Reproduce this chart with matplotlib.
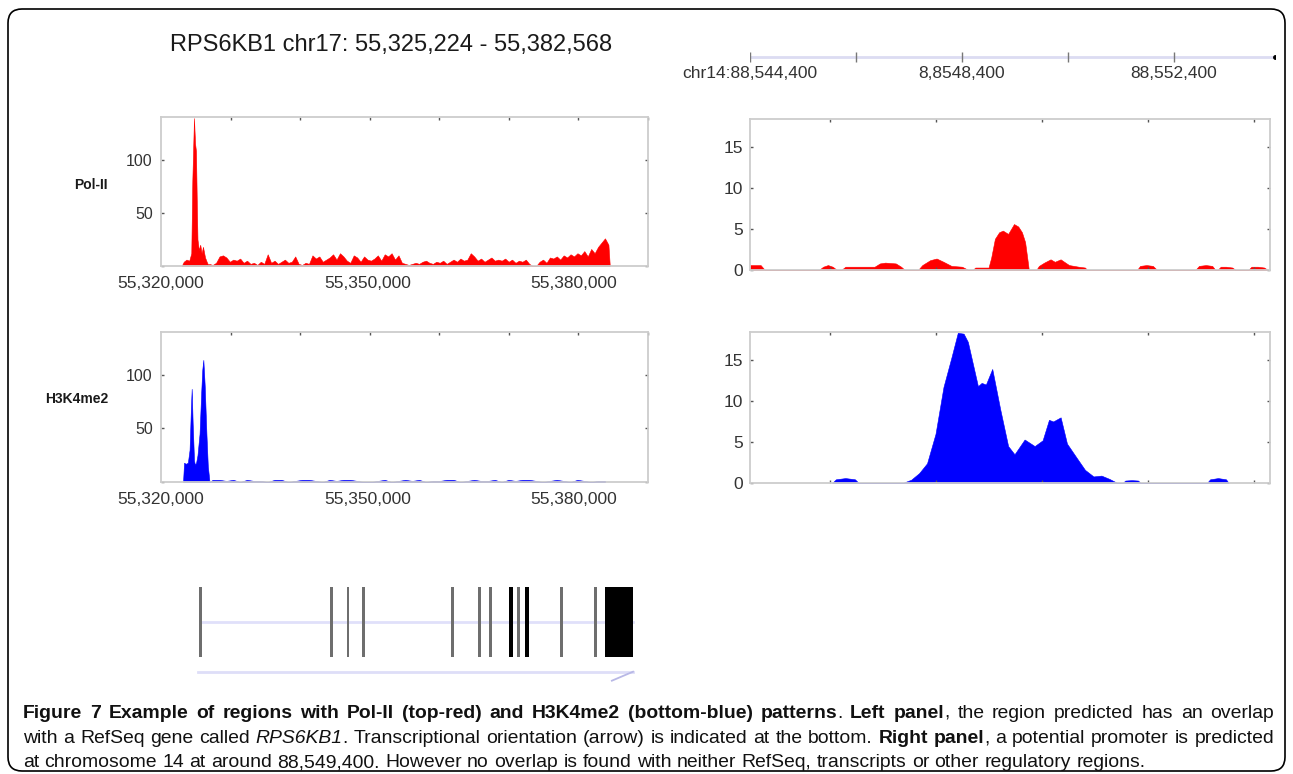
import numpy as np
import matplotlib
matplotlib.use('Agg')
import matplotlib.pyplot as plt
from matplotlib.patches import FancyBboxPatch
from matplotlib.transforms import IdentityTransform
from matplotlib.ticker import FixedLocator
from matplotlib import font_manager

# ---- data ----
LEFT0 = 55320000          # left panels, bp
RIGHT0 = 88544400         # right panels, bp
GENE0 = 55325224          # RPS6KB1 start
GENE_LEN = 57.344         # kb

left_xticks = [55320000, 55350000, 55380000]
left_xlabels = ['55,320,000', '55,350,000', '55,380,000']

# Pol-II (left, red), kb from LEFT0
pol_head_kb = [3.0, 3.3, 3.7, 4.1, 4.4, 4.55, 4.79, 4.95, 5.08, 5.2, 5.3, 5.5,
               5.7, 5.9, 6.1, 6.4, 6.7, 6.9]
pol_head = [0, 4, 6, 5, 12, 80, 139, 115, 108, 60, 25, 15, 20, 12, 18, 8, 3, 1]
pol_tail = [2, 1, 3, 9, 10, 8, 4, 6, 5, 7, 3, 5,
            2, 3, 1, 4, 2, 11, 3, 5, 2, 4, 6, 3,
            4, 9, 2, 1, 3, 2, 10, 7, 9, 4, 6, 8,
            11, 6, 12, 9, 5, 3, 10, 8, 4, 9, 6, 5,
            7, 10, 5, 11, 9, 12, 6, 10, 3, 2, 1, 2,
            3, 2, 4, 5, 3, 2, 4, 3, 5, 2, 4, 6,
            4, 7, 5, 6, 12, 9, 5, 7, 4, 6, 8, 5,
            6, 5, 7, 4, 6, 3, 5, 4, 6, 2, 0, 0,
            4, 6, 3, 8, 7, 9, 6, 10, 8, 11, 9, 12,
            10, 14, 9, 16, 12, 18, 22, 26, 20]
pol_tail_start, pol_bin, pol_end = 7.0, 0.5, 65.2

# H3K4me2 (left, blue)
h3_head_kb = [3.2, 3.35, 3.6, 3.9, 4.15, 4.35, 4.46, 4.6, 4.8, 4.94, 5.1, 5.3,
              5.6, 5.85, 6.0, 6.15, 6.35, 6.6, 6.8, 7.05]
h3_head = [0, 18, 17, 18, 30, 70, 87, 55, 20, 16, 18, 25, 45, 85, 105, 114, 90,
           45, 15, 0]
h3_tail = [2, 2, 1, 2, 0, 2, 1, 1, 0, 2, 2, 0, 1, 2, 2, 1, 0, 2, 1, 2, 2, 1, 0,
           0, 1, 2, 0, 1, 2, 1, 2, 0, 1, 1, 2, 2, 0, 1, 2, 1, 1, 2, 0, 2, 1, 2,
           2, 1, 0, 1, 2, 1, 0, 2, 1, 0, 1, 1]
h3_tail_start, h3_bin = 7.5, 1.0

# right panels, kb from RIGHT0
red_kb = [0.0, 0.05, 0.2, 0.28,
          1.30, 1.38, 1.47, 1.56, 1.64,
          1.72, 1.80, 2.35, 2.45, 2.55, 2.75, 2.85, 2.92,
          3.17, 3.25, 3.40, 3.52, 3.65, 3.80, 4.00, 4.12,
          4.20, 4.25, 4.50, 4.55, 4.62, 4.70, 4.77, 4.87, 4.98, 5.06, 5.13, 5.19, 5.24, 5.26,
          5.40, 5.45, 5.55, 5.67, 5.75, 5.86, 5.95, 6.02, 6.20, 6.32, 6.36,
          7.30, 7.36, 7.48, 7.60, 7.68,
          8.40, 8.47, 8.60, 8.72, 8.78, 8.82, 8.88, 8.98, 9.10, 9.16,
          9.40, 9.46, 9.58, 9.70, 9.77]
red_val = [0.6, 0.6, 0.6, 0,
           0, 0.4, 0.6, 0.4, 0,
           0, 0.4, 0.4, 0.8, 0.9, 0.8, 0.4, 0,
           0, 0.6, 1.2, 1.4, 1.0, 0.5, 0.4, 0,
           0, 0.3, 0.3, 1.5, 3.8, 4.6, 4.8, 4.4, 5.6, 5.3, 4.6, 3.4, 1.0, 0,
           0, 0.5, 0.9, 1.3, 1.0, 1.3, 0.9, 0.6, 0.4, 0.3, 0,
           0, 0.5, 0.6, 0.5, 0,
           0, 0.5, 0.6, 0.5, 0, 0, 0.4, 0.4, 0.3, 0,
           0, 0.4, 0.4, 0.3, 0]

blue_kb = [1.55, 1.62, 1.80, 1.98, 2.05,
           2.88, 3.04, 3.19, 3.34, 3.50, 3.65, 3.80, 3.92, 4.03, 4.11, 4.30, 4.37,
           4.45, 4.57, 4.72, 4.87, 4.99, 5.18, 5.37, 5.52, 5.64, 5.72, 5.86, 5.98,
           6.17, 6.32, 6.48, 6.63, 6.78, 6.93,
           7.03, 7.08, 7.20, 7.32, 7.37,
           8.62, 8.68, 8.83, 8.98, 9.03]
blue_val = [0, 0.45, 0.6, 0.45, 0,
            0, 0.4, 1.2, 2.4, 6.0, 11.7, 15.3, 18.3, 18.2, 17.2, 11.8, 12.2,
            12.0, 13.9, 9.0, 4.5, 3.5, 5.3, 4.5, 5.2, 7.7, 7.5, 8.0, 4.8,
            3.0, 1.6, 0.8, 0.9, 0.5, 0,
            0, 0.3, 0.35, 0.3, 0,
            0, 0.45, 0.6, 0.45, 0]

right_ticks_kb = [1.5, 3.5, 5.5, 7.5, 9.5]
ruler_ticks_kb = [0, 2, 4, 6, 8]
ruler_labels = ['chr14:88,544,400', '', '8,8548,400', '', '88,552,400']
ruler_end = 9.91

# RefSeq exons, kb from GENE0
exon_start = [0.0, 17.3, 19.5, 21.5, 33.3, 36.9, 38.35, 40.95, 42.1, 43.1, 47.75, 52.3, 53.6]
exon_end = [0.2, 17.5, 19.7, 21.7, 33.5, 37.1, 38.55, 41.45, 42.3, 43.6, 47.95, 52.5, 57.344]

# ---- figure ----
W, H = 1293, 774
plt.rcParams['font.family'] = ['Liberation Sans', 'DejaVu Sans']
fig = plt.figure(figsize=(W / 100, H / 100), dpi=100)


def rect(x0, y0, x1, y1):
    return [x0 / W, 1 - y1 / H, (x1 - x0) / W, (y1 - y0) / H]


def frame(ax):
    for s in ax.spines.values():
        s.set_color('#cdcdcd')
        s.set_linewidth(1.3)
    ax.tick_params(which='both', direction='in', color='#555555', width=1.0, length=2.5)


def left_panel(ax, kb, val, color):
    frame(ax)
    x = LEFT0 + np.asarray(kb) * 1000
    ax.fill_between(x, 0, val, color=color, lw=0.4)
    xmax = LEFT0 + 70750
    ax.set_xlim(LEFT0, xmax)
    ax.set_ylim(0, 140)
    ax.set_xticks(left_xticks)
    ax.set_xticklabels(left_xlabels)
    ax.xaxis.set_minor_locator(FixedLocator(np.linspace(LEFT0, xmax, 8)))
    ax.tick_params(axis='x', which='major', length=0, pad=7, labelsize=12.5, labelcolor='#333333')
    ax.tick_params(axis='x', which='minor', top=True, bottom=False)
    ax.set_yticks([0, 50, 100])
    ax.set_yticklabels(['', '50', '100'])
    ax.tick_params(axis='y', right=True, labelsize=11.5, labelcolor='#333333', pad=6)


def right_panel(ax, kb, val, color):
    frame(ax)
    ax.fill_between(kb, 0, val, color=color, lw=0.4)
    ax.set_xlim(0, 9.81)
    ax.set_ylim(0, 18.4)
    ax.set_xticks([])
    ax.xaxis.set_minor_locator(FixedLocator(right_ticks_kb))
    ax.tick_params(axis='x', which='minor', top=True, bottom=True)
    ax.set_yticks([0, 5, 10, 15])
    ax.tick_params(axis='y', right=True, labelsize=12.5, labelcolor='#333333', pad=5)


pol_kb = pol_head_kb + list(pol_tail_start + pol_bin * np.arange(len(pol_tail))) + [pol_end]
pol_val = pol_head + pol_tail + [0]
h3_kb = h3_head_kb + list(h3_tail_start + h3_bin * np.arange(len(h3_tail)))
h3_val = h3_head + h3_tail

ax1 = fig.add_axes(rect(161, 117, 648, 266))
left_panel(ax1, pol_kb, pol_val, '#ff0000')
ax2 = fig.add_axes(rect(161, 332, 648, 482))
left_panel(ax2, h3_kb, h3_val, '#0000ff')
ax3 = fig.add_axes(rect(750, 119, 1270, 270))
right_panel(ax3, red_kb, red_val, '#ff0000')
ax4 = fig.add_axes(rect(750, 332, 1270, 483))
right_panel(ax4, blue_kb, blue_val, '#0000ff')

# ruler over right panels (y in pixel rows)
axr = fig.add_axes(rect(750, 45, 1275, 70))
axr.set_xlim(0, 9.91)
axr.set_ylim(70, 45)
axr.axis('off')
axr.plot([0, ruler_end], [57, 57], color='#dcdcf2', lw=2, solid_capstyle='butt')
axr.vlines(ruler_ticks_kb, 52, 62, color='#777777', lw=1)
axr.plot([ruler_end], [57], 'o', color='black', ms=2.5)
for k, lab in zip(ruler_ticks_kb, ruler_labels):
    axr.text(k, 73, lab, ha='center', va='center', fontsize=12.5, color='#333333', clip_on=False)

# gene model (y in pixel rows)
axg = fig.add_axes(rect(190, 575, 645, 690))
axg.set_xlim(-1.324, 58.93)
axg.set_ylim(690, 575)
axg.axis('off')
axg.plot([0, GENE_LEN], [621.7, 621.7], color='#e0e0fa', lw=2, zorder=0)
axg.plot([-0.26, GENE_LEN], [671.7, 671.7], color='#dedef8', lw=2, zorder=0)
axg.plot([GENE_LEN - 2.8, GENE_LEN], [680.7, 671.7], color='#b8b8e6', lw=1.3)
for s, e in zip(exon_start, exon_end):
    w = e - s
    if w < 0.3:
        c = (s + e) / 2
        axg.bar(c, 70, bottom=586.7, width=0.38, color='#6e6e6e', lw=0)
    else:
        axg.bar(s, 70, bottom=586.7, width=w, align='edge', color='black', lw=0)

# texts
fig.text(391 / W, 1 - 45 / H, 'RPS6KB1 chr17: 55,325,224 - 55,382,568', ha='center',
         va='center', fontsize=17, color='#1a1a1a')
fig.text(108 / W, 1 - 185 / H, 'Pol-II', ha='right', va='center', fontsize=10,
         fontweight='bold', color='#1a1a1a')
fig.text(108 / W, 1 - 399 / H, 'H3K4me2', ha='right', va='center', fontsize=10,
         fontweight='bold', color='#1a1a1a')

# border
fig.add_artist(FancyBboxPatch((8, 3), 1277, 762, boxstyle='round,pad=0,rounding_size=14',
                              transform=IdentityTransform(), fill=False, ec='black', lw=1.2))

# caption, justified word by word
cap1 = [("Figure 7 Example of regions with Pol-II (top-red) and H3K4me2 (bottom-blue) patterns", 'b'),
        (". ", 'n'), ("Left panel", 'b'), (", the region predicted has an overlap", 'n')]
cap2 = [("with a RefSeq gene called ", 'n'), ("RPS6KB1", 'i'),
        (". Transcriptional orientation (arrow) is indicated at the bottom. ", 'n'),
        ("Right panel", 'b'), (", a potential promoter is predicted", 'n')]
cap3 = [("at chromosome 14 at around 88,549,400. However no overlap is found with neither "
         "RefSeq, transcripts or other regulatory regions.", 'n')]
styles = {'n': {}, 'b': {'fontweight': 'bold'}, 'i': {'fontstyle': 'italic'}}

names = {f.name for f in font_manager.fontManager.ttflist}
cap_font = 'Liberation Sans Narrow' if 'Liberation Sans Narrow' in names else 'Liberation Sans'
CAP_L, CAP_R = 23, 1274
renderer = fig.canvas.get_renderer()


def measure(txt, size, st):
    t = fig.text(0, 0, txt, fontsize=size, family=cap_font, **styles[st])
    w = t.get_window_extent(renderer).width
    t.remove()
    return w


def words_of(segs):
    words = []
    new = True
    for text, st in segs:
        for i, p in enumerate(text.split(' ')):
            if i > 0:
                new = True
            if p:
                if new or not words:
                    words.append([(p, st)])
                else:
                    words[-1].append((p, st))
                new = False
    return words


def line_width(segs, size):
    words = words_of(segs)
    sp = measure('a a', size, 'n') - measure('aa', size, 'n')
    return sum(measure(p, size, st) for w in words for p, st in w) + sp * (len(words) - 1)


# size the caption so the two full lines fit the box width with normal spacing
base = 12.0
nat = max(line_width(cap1, base), line_width(cap2, base))
cap_size = base * (CAP_R - CAP_L) * 0.995 / nat


def place_line(segs, y, size, justify):
    words = words_of(segs)
    widths = [[measure(p, size, st) for p, st in w] for w in words]
    total = sum(sum(ws) for ws in widths)
    if justify:
        gap = (CAP_R - CAP_L - total) / (len(words) - 1)
    else:
        gap = measure('a a', size, 'n') - measure('aa', size, 'n')
    x = CAP_L
    for w, ws in zip(words, widths):
        for (p, st), pw in zip(w, ws):
            fig.text(x / W, 1 - y / H, p, fontsize=size, family=cap_font, va='baseline',
                     ha='left', color='#111111', **styles[st])
            x += pw
        x += gap


place_line(cap1, 718, cap_size, True)
place_line(cap2, 743, cap_size, True)
place_line(cap3, 767, cap_size, False)

fig.savefig('out.png', dpi=100)
